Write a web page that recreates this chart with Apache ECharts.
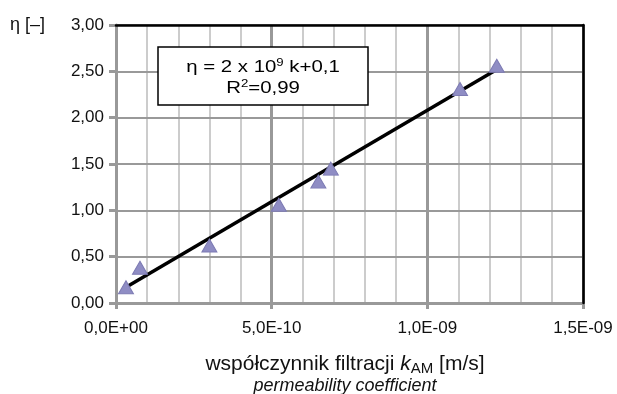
<!DOCTYPE html>
<html>
<head>
<meta charset="utf-8">
<script src="https://cdn.jsdelivr.net/npm/echarts@6/dist/echarts.min.js"></script>
<style>html,body{margin:0;padding:0;background:#fff;}#c{width:617px;height:394px;}</style>
</head>
<body>
<div id="c"></div>
<script>
// Data
var kValues   = [3.2e-11, 7.7e-11, 3.0e-10, 5.23e-10, 6.5e-10, 6.9e-10, 1.105e-9, 1.223e-9];
var etaValues = [0.17, 0.38, 0.62, 1.06, 1.31, 1.45, 2.31, 2.56];
var trendK    = [3.2e-11, 1.223e-9];
var trendEta  = [0.17, 2.52];
var xTickLabels = ['0,0E+00', '5,0E-10', '1,0E-09', '1,5E-09'];
var yTickLabels = ['0,00', '0,50', '1,00', '1,50', '2,00', '2,50', '3,00'];

var FONT = '"Liberation Sans", Arial, sans-serif';
var chart = echarts.init(document.getElementById('c'), null, {renderer: 'canvas'});

var scatterData = kValues.map(function (k, i) { return [k, etaValues[i]]; });
var trendData = trendK.map(function (k, i) { return [k, trendEta[i]]; });

var option = {
  animation: false,
  backgroundColor: '#fff',
  grid: {left: 116, right: 34, top: 25, bottom: 91, containLabel: false},
  xAxis: [{
    type: 'value', min: 0, max: 1.5e-9, interval: 5e-10, position: 'bottom',
    axisLine: {show: true, onZero: false, lineStyle: {color: '#999', width: 3}},
    axisTick: {show: true, length: 6, lineStyle: {color: '#999', width: 3}},
    axisLabel: {margin: 17, fontSize: 17, color: '#111', fontFamily: FONT,
      formatter: function (v) { return xTickLabels[Math.round(v / 5e-10)]; }},
    splitLine: {show: true, lineStyle: {color: '#999', width: 3}},
    minorTick: {show: false, splitNumber: 5},
    minorSplitLine: {show: true, lineStyle: {color: '#ccc', width: 2}},
    z: 1
  }, {
    type: 'value', min: 0, max: 1.5e-9, interval: 5e-10, position: 'top',
    axisLine: {show: true, onZero: false, lineStyle: {color: '#000', width: 2.5}},
    axisTick: {show: false}, axisLabel: {show: false}, splitLine: {show: false}, z: 3
  }],
  yAxis: [{
    type: 'value', min: 0, max: 3, interval: 0.5, position: 'left',
    axisLine: {show: true, onZero: false, lineStyle: {color: '#999', width: 3}},
    axisTick: {show: true, length: 7, lineStyle: {color: '#999', width: 3}},
    axisLabel: {margin: 12, fontSize: 17, color: '#111', fontFamily: FONT,
      formatter: function (v) { return yTickLabels[Math.round(v / 0.5)]; }},
    splitLine: {show: true, lineStyle: {color: '#999', width: 2}},
    z: 2
  }, {
    type: 'value', min: 0, max: 3, interval: 0.5, position: 'right',
    axisLine: {show: true, onZero: false, lineStyle: {color: '#000', width: 2.5}},
    axisTick: {show: false}, axisLabel: {show: false}, splitLine: {show: false}, z: 3
  }],
  series: [{
    type: 'line', data: trendData, xAxisIndex: 0, yAxisIndex: 0,
    symbol: 'none', lineStyle: {color: '#000', width: 3.5}, z: 4
  }, {
    type: 'scatter', data: scatterData, xAxisIndex: 0, yAxisIndex: 0,
    symbol: 'triangle', symbolSize: [15, 13],
    itemStyle: {color: '#8f8dc4', borderColor: '#7d7bb3', borderWidth: 1, opacity: 1}, z: 5
  }],
  graphic: [{
    type: 'rect', z: 10,
    shape: {x: 158, y: 47, width: 210, height: 58},
    style: {fill: '#fff', stroke: '#000', lineWidth: 1.5}
  }, {
    type: 'text', z: 11, x: 263, y: 78, scaleX: 1.2,
    style: {
      text: '{n|η = 2 x 10}{s|9}{n| k+0,1}\n{n|R}{s|2}{n|=0,99}',
      align: 'center', verticalAlign: 'middle', fill: '#000',
      rich: {
        n: {fontSize: 17, fontFamily: FONT, lineHeight: 21, fill: '#000'},
        s: {fontSize: 11, fontFamily: FONT, lineHeight: 21, verticalAlign: 'top', padding: [0, 0, 8, 0], fill: '#000'}
      }
    }
  }, {
    type: 'text', x: 10, y: 25,
    style: {text: 'η [–]', font: '18px ' + FONT, fill: '#111', verticalAlign: 'middle', align: 'left'}
  }, {
    type: 'text', x: 345, y: 364,
    style: {
      text: '{n|współczynnik filtracji }{i|k}{sub|AM}{n| [m/s]}',
      align: 'center', verticalAlign: 'middle',
      rich: {
        n: {fontSize: 21, fontFamily: FONT, fill: '#111'},
        i: {fontSize: 21, fontFamily: FONT, fontStyle: 'italic', fill: '#111'},
        sub: {fontSize: 15, fontFamily: FONT, fill: '#111', padding: [9, 0, 0, 0]}
      }
    }
  }, {
    type: 'text', x: 345, y: 386,
    style: {text: 'permeability coefficient', font: 'italic 18px ' + FONT, fill: '#111', align: 'center', verticalAlign: 'middle'}
  }]
};
chart.setOption(option);
</script>
</body>
</html>
